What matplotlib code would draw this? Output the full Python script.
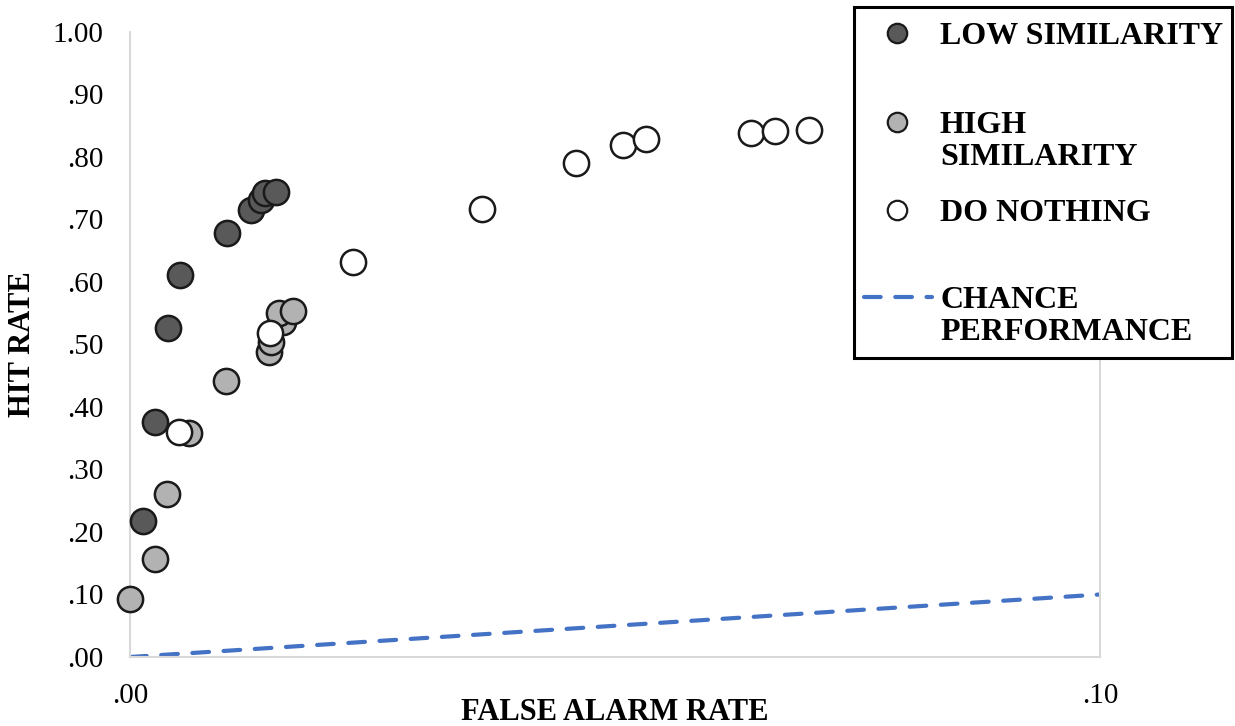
import numpy as np
import matplotlib
matplotlib.use("Agg")
import matplotlib.pyplot as plt
from matplotlib.lines import Line2D
from matplotlib.patches import Rectangle
from matplotlib.ticker import FuncFormatter

plt.rcParams['font.family'] = ['Liberation Serif', 'DejaVu Serif']

# false alarm rate / hit rate per condition
low_fa = [0.0013, 0.0026, 0.0039, 0.0052, 0.0100, 0.0125, 0.0135, 0.0139, 0.0150]
low_hit = [0.218, 0.376, 0.526, 0.611, 0.678, 0.715, 0.731, 0.742, 0.744]

high_fa = [0.0000, 0.0026, 0.0038, 0.0061, 0.0099, 0.0143, 0.0145, 0.0158, 0.0154, 0.0168]
high_hit = [0.093, 0.157, 0.261, 0.358, 0.442, 0.488, 0.504, 0.536, 0.550, 0.554]

none_fa = [0.0050, 0.0144, 0.0230, 0.0363, 0.0460, 0.0508, 0.0532, 0.0640, 0.0665, 0.0700]
none_hit = [0.360, 0.518, 0.632, 0.717, 0.790, 0.819, 0.829, 0.838, 0.842, 0.843]

chance_fa = [0.0, 0.1]
chance_hit = [0.0, 0.1]

dark = '#595959'
light = '#b2b2b2'
blue = '#4472C4'
grid_c = '#d9d9d9'

fig = plt.figure(figsize=(12.35, 7.26), dpi=100)
ax = fig.add_axes([130/1235, 1-657/726, 970/1235, 625/726])

ax.plot(chance_fa, chance_hit, color=blue, lw=3, ls=(0, (4, 3.5)),
        dash_capstyle='round', zorder=1)

kw = dict(s=330, edgecolors='#1a1a1a', linewidths=1.8, zorder=3, clip_on=False)
ax.scatter(low_fa, low_hit, c=dark, **kw)
ax.scatter(high_fa, high_hit, c=light, **kw)
ax.scatter(none_fa, none_hit, c='white', **kw)

ax.set_xlim(0, 0.1)
ax.set_ylim(0, 1.0)
ax.set_xticks([0, 0.1])
ax.set_yticks(np.arange(0, 1.01, 0.1))

def fmt(v, pos):
    s = '%.2f' % v
    return s[1:] if s.startswith('0') else s

ax.xaxis.set_major_formatter(FuncFormatter(fmt))
ax.yaxis.set_major_formatter(FuncFormatter(fmt))
ax.tick_params(axis='both', length=0, labelsize=21)
ax.tick_params(axis='y', pad=19)
ax.tick_params(axis='x', pad=19)

for side in ['left', 'right', 'bottom']:
    ax.spines[side].set_color(grid_c)
    ax.spines[side].set_linewidth(1.5)
ax.spines['top'].set_visible(False)

ax.set_xlabel('FALSE ALARM RATE', fontsize=22, fontweight='bold', va='center')
ax.xaxis.set_label_coords(0.5, -(713 - 657) / 625)
ax.set_ylabel('HIT RATE', fontsize=22, fontweight='bold', va='center')
ax.yaxis.set_label_coords(-(130 - 23) / 970, 0.5)

# legend drawn by hand so markers sit on the first line of two-line labels
W, H = 1235.0, 726.0
def fx(px):
    return px / W
def fy(py):
    return 1 - py / H

fig.add_artist(Rectangle((fx(854), fy(358)), fx(1232) - fx(854), fy(7) - fy(358),
                         transform=fig.transFigure, fill=True, facecolor='white',
                         edgecolor='black', lw=2.2, zorder=5))

entries = [
    (dark, 'LOW SIMILARITY', 33),
    (light, 'HIGH\nSIMILARITY', 122),
    ('white', 'DO NOTHING', 210),
]
for col, lab, py in entries:
    fig.add_artist(Line2D([fx(897)], [fy(py)], transform=fig.transFigure, marker='o',
                          ms=14, mfc=col, mec='#1a1a1a', mew=1.6, ls='none', zorder=6))
    fig.text(fx(940), fy(py - 11), lab, fontsize=23, fontweight='bold', va='top',
             ha='left', linespacing=1.15, zorder=6)

fig.add_artist(Line2D([fx(864), fx(932)], [fy(297), fy(297)], transform=fig.transFigure,
                      color=blue, lw=3, ls=(0, (4, 3.5)), dash_capstyle='round', zorder=6))
fig.text(fx(940), fy(286), 'CHANCE\nPERFORMANCE', fontsize=23, fontweight='bold',
         va='top', ha='left', linespacing=1.15, zorder=6)

fig.savefig('out.png', dpi=100)
